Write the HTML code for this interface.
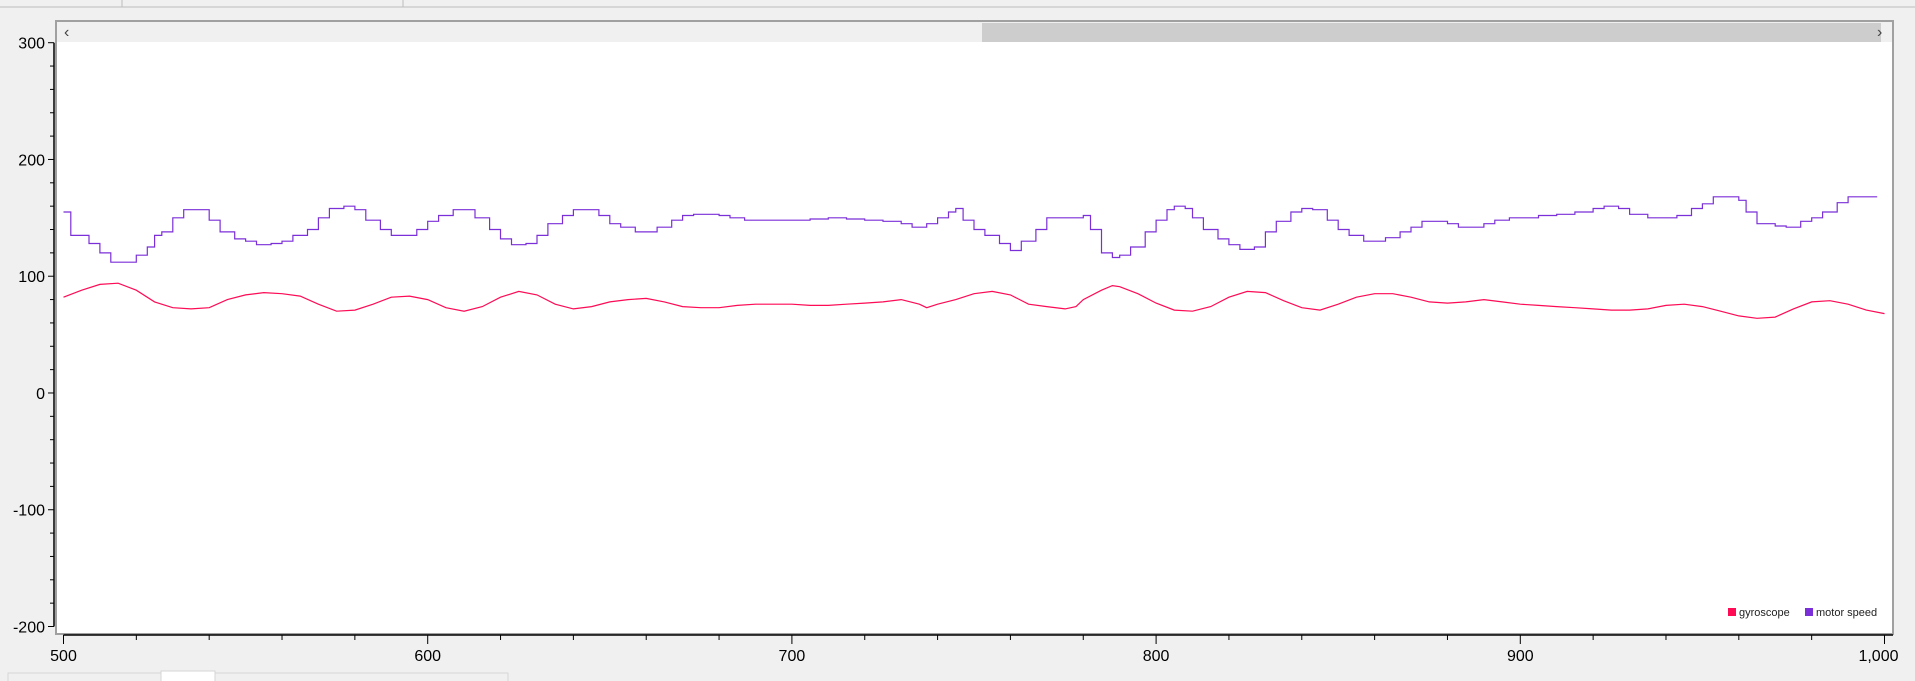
<!DOCTYPE html>
<html><head><meta charset="utf-8"><style>
html,body{margin:0;padding:0;background:#f0f0f0;width:1915px;height:681px;overflow:hidden;font-family:"Liberation Sans",sans-serif}
svg{display:block}
</style></head><body>
<svg id="chart" width="1915" height="681" xmlns="http://www.w3.org/2000/svg">
<rect x="0" y="0" width="1915" height="681" fill="#f0f0f0"/>
<g>
<line x1="0" y1="7" x2="1915" y2="7" stroke="#bdbdbd"/>
<line x1="122" y1="0" x2="122" y2="7" stroke="#bdbdbd"/>
<line x1="403" y1="0" x2="403" y2="7" stroke="#bdbdbd"/>
</g>
<rect x="56" y="21" width="1837" height="613" fill="#ffffff" stroke="#a0a0a0" stroke-width="2"/>
<rect x="57" y="22" width="1835" height="20" fill="#f0f0f0"/>
<rect x="982" y="23" width="899" height="19" fill="#cdcdcd"/>
<text x="64" y="37" font-size="16" fill="#444">‹</text>
<text x="1877" y="37" font-size="16" fill="#444">›</text>
<g id="yaxis"></g>
<g id="xaxis"></g>
<g id="series"></g>
<g>
<rect x="1728" y="608" width="8" height="8" fill="#ff0a55"/>
<text x="1739" y="616" font-size="11" fill="#222">gyroscope</text>
<rect x="1805" y="608" width="8" height="8" fill="#7b2fd8"/>
<text x="1816" y="616" font-size="11" fill="#222">motor speed</text>
</g>
<g>
<rect x="8" y="673" width="500" height="9" fill="#f0f0f0" stroke="#d6d6d6"/>
<rect x="161" y="671" width="54" height="11" fill="#ffffff" stroke="#d6d6d6"/>
</g>
</svg>
<script>
const xTicks=[500,600,700,800,900,1000];
const xTickLabels=["500","600","700","800","900","1,000"];
const yTicks=[300,200,100,0,-100,-200];
const yTickLabels=["300","200","100","0","-100","-200"];
const gyroX=[500,505,510,515,520,525,530,535,540,545,550,555,560,565,570,575,580,585,590,595,600,605,610,615,620,625,630,635,640,645,650,655,660,665,670,675,680,685,690,695,700,705,710,715,720,725,730,735,737,740,745,750,755,760,765,770,775,778,780,785,788,790,795,800,805,810,815,820,825,830,835,840,845,850,855,860,865,870,875,880,885,890,895,900,905,910,915,920,925,930,935,940,945,950,955,960,965,970,975,980,985,990,995,1000];
const gyroY=[82,88,93,94,88,78,73,72,73,80,84,86,85,83,76,70,71,76,82,83,80,73,70,74,82,87,84,76,72,74,78,80,81,78,74,73,73,75,76,76,76,75,75,76,77,78,80,76,73,76,80,85,87,84,76,74,72,74,80,88,92,91,85,77,71,70,74,82,87,86,79,73,71,76,82,85,85,82,78,77,78,80,78,76,75,74,73,72,71,71,72,75,76,74,70,66,64,65,72,78,79,76,71,68];
const motorX=[500,502,505,507,510,513,517,520,523,525,527,530,533,537,540,543,547,550,553,557,560,563,567,570,573,577,580,583,587,590,593,597,600,603,607,610,613,617,620,623,627,630,633,637,640,643,647,650,653,657,660,663,667,670,673,677,680,683,687,690,695,700,705,710,715,720,725,730,733,737,740,743,745,747,750,753,757,760,763,767,770,773,777,780,782,785,788,790,793,797,800,803,805,808,810,813,817,820,823,827,830,833,837,840,843,847,850,853,857,860,863,867,870,873,877,880,883,887,890,893,897,900,905,910,915,920,923,927,930,935,940,943,947,950,953,957,960,962,965,970,973,977,980,983,987,990,993,998];
const motorY=[155,135,135,128,120,112,112,118,125,135,138,150,157,157,148,138,132,130,127,128,130,135,140,150,158,160,157,148,140,135,135,140,147,152,157,157,150,140,132,127,128,135,145,152,157,157,152,145,142,138,138,142,148,152,153,153,152,150,148,148,148,148,149,150,149,148,147,145,142,145,150,155,158,148,140,135,128,122,130,140,150,150,150,152,140,120,116,118,125,138,148,157,160,158,150,140,132,127,123,125,138,147,155,158,157,148,140,135,130,130,133,138,142,147,147,145,142,142,145,148,150,150,152,153,155,158,160,158,153,150,150,152,158,162,168,168,165,155,145,143,142,147,150,155,163,168,168,168];
const NS="http://www.w3.org/2000/svg";
const X0=63.5,X1=1884.5,Y0=42.7,Y1=626.5;
function sx(v){return X0+(v-500)/500*(X1-X0);}
function sy(v){return Y0+(300-v)/500*(Y1-Y0);}
function mk(tag,attrs,parent){const e=document.createElementNS(NS,tag);for(const k in attrs)e.setAttribute(k,attrs[k]);parent.appendChild(e);return e;}
const ya=document.getElementById('yaxis'),xa=document.getElementById('xaxis'),sg=document.getElementById('series');
mk('line',{x1:54,y1:Y0,x2:54,y2:Y1,stroke:'#000','stroke-width':1.5},ya);
for(let v=-200;v<=300;v+=20){const t=mk('line',{x1:(v%100===0?48:50),y1:sy(v),x2:54,y2:sy(v),stroke:'#000'},ya);}
yTicks.forEach((v,i)=>{const t=mk('text',{x:45,y:sy(v)+6,'font-size':16,'text-anchor':'end',fill:'#000'},ya);t.textContent=yTickLabels[i];

});
mk('line',{x1:X0,y1:635,x2:1893,y2:635,stroke:'#000','stroke-width':1.5},xa);
for(let v=500;v<=1000;v+=20){mk('line',{x1:sx(v),y1:635,x2:sx(v),y2:(v%100===0?644:640),stroke:'#000'},xa);}
xTicks.forEach((v,i)=>{const t=mk('text',{x:sx(v),y:661,'font-size':16,'text-anchor':(v===1000?'end':'middle'),fill:'#000'},xa);if(v===1000)t.setAttribute('x',sx(v)+14);t.textContent=xTickLabels[i];

});
let d='';gyroX.forEach((x,i)=>{d+=(i?'L':'M')+sx(x).toFixed(1)+' '+sy(gyroY[i]).toFixed(1);});
const g=mk('path',{d:d,fill:'none',stroke:'#ff0a55','stroke-width':1.2},sg);


let m='';motorX.forEach((x,i)=>{if(i===0)m+='M'+sx(x).toFixed(1)+' '+sy(motorY[i]).toFixed(1);else m+='H'+sx(x).toFixed(1)+'V'+sy(motorY[i]).toFixed(1);});
const mp=mk('path',{d:m,fill:'none',stroke:'#7b2fd8','stroke-width':1.2},sg);


</script>
</body></html>
